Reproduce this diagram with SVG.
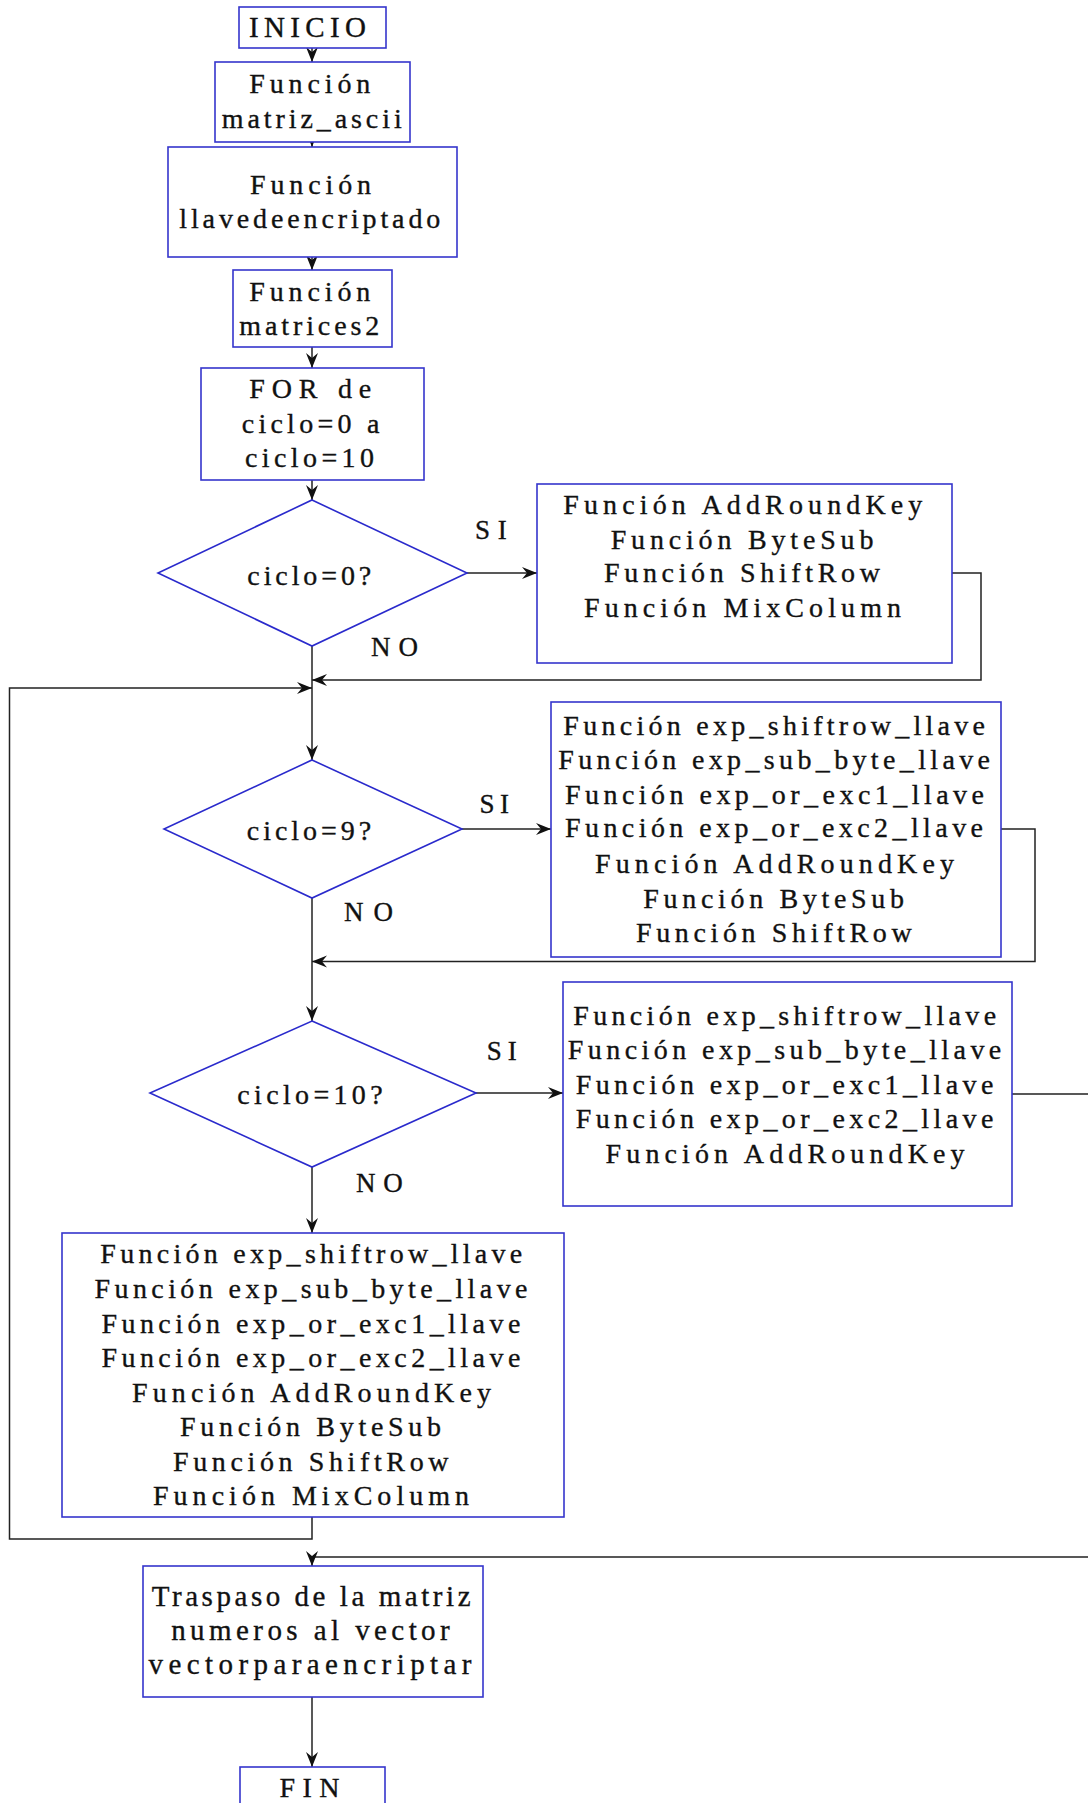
<svg xmlns="http://www.w3.org/2000/svg" width="1088" height="1803" viewBox="0 0 1088 1803">
<style>
.box{fill:#fff;stroke:#3535cc;stroke-width:1.6}
.dia{fill:#fff;stroke:#2a2acc;stroke-width:1.6}
.t{font-family:"Liberation Serif","Times New Roman",serif;font-size:28px;fill:#111;stroke:#111;stroke-width:0.35}
.s{font-size:27px}
.d{font-size:28px}
.big{font-size:29px}
.tr{font-size:29px}
.c{fill:none;stroke:#222;stroke-width:1.5}
</style>
<defs>
<marker id="ah" markerUnits="userSpaceOnUse" markerWidth="20" markerHeight="14" viewBox="-16 -7 17 14" refX="0" refY="0" orient="auto">
<path d="M0,0 L-15,-6 L-10,0 L-15,6 Z" fill="#111"/>
</marker>
</defs>
<g id="connectors">
<path class="c" d="M312,48 L312,62" marker-end="url(#ah)"/>
<path class="c" d="M312,132 L312,147" marker-end="url(#ah)"/>
<path class="c" d="M312,257 L312,270" marker-end="url(#ah)"/>
<path class="c" d="M312,347 L312,368" marker-end="url(#ah)"/>
<path class="c" d="M312,480 L312,500" marker-end="url(#ah)"/>
<path class="c" d="M467,573 L537,573" marker-end="url(#ah)"/>
<path class="c" d="M952,573 L981,573 L981,680 L312,680" marker-end="url(#ah)"/>
<path class="c" d="M312,646 L312,760" marker-end="url(#ah)"/>
<path class="c" d="M312,1517 L312,1539 L9.5,1539 L9.5,688 L312,688" marker-end="url(#ah)"/>
<path class="c" d="M462,829 L551,829" marker-end="url(#ah)"/>
<path class="c" d="M1001,829 L1035,829 L1035,961.5 L312,961.5" marker-end="url(#ah)"/>
<path class="c" d="M312,898 L312,1021" marker-end="url(#ah)"/>
<path class="c" d="M476,1093 L563,1093" marker-end="url(#ah)"/>
<path class="c" d="M1012,1094 L1096,1094 L1096,1557 L312,1557 L312,1566" marker-end="url(#ah)"/>
<path class="c" d="M312,1167 L312,1233" marker-end="url(#ah)"/>
<path class="c" d="M312,1697 L312,1767" marker-end="url(#ah)"/>
</g>
<g id="inicio">
<rect class="box" x="239" y="7" width="147" height="41"/>
<text class="t big" x="249" y="37" textLength="117" lengthAdjust="spacing">INICIO</text>
</g>
<g id="matriz_ascii">
<rect class="box" x="215" y="62" width="195" height="80"/>
<text class="t" x="249.3" y="93" textLength="121" lengthAdjust="spacing">Función</text>
<text class="t" x="221.7" y="128" textLength="180" lengthAdjust="spacing">matriz_ascii</text>
</g>
<g id="llavedeencriptado">
<rect class="box" x="168" y="147" width="289" height="110"/>
<text class="t" x="250" y="194" textLength="121" lengthAdjust="spacing">Función</text>
<text class="t" x="179.3" y="228" textLength="261" lengthAdjust="spacing">llavedeencriptado</text>
</g>
<g id="matrices2">
<rect class="box" x="233" y="270" width="159" height="77"/>
<text class="t" x="249.3" y="300.7" textLength="121" lengthAdjust="spacing">Función</text>
<text class="t" x="239.3" y="335" textLength="140" lengthAdjust="spacing">matrices2</text>
</g>
<g id="for">
<rect class="box" x="201" y="368" width="223" height="112"/>
<text class="t" x="249.3" y="398.3" textLength="122" lengthAdjust="spacing">FOR de</text>
<text class="t" x="241.7" y="433.3" textLength="137.7" lengthAdjust="spacing">ciclo=0 a</text>
<text class="t" x="245" y="466.7" textLength="129" lengthAdjust="spacing">ciclo=10</text>
</g>
<g id="dec0">
<polygon class="dia" points="312,500 467,573 312,646 158,573"/>
<text class="t d" x="247.3" y="585" textLength="124" lengthAdjust="spacing">ciclo=0?</text>
<text class="t s" x="475" y="539" textLength="31.7" lengthAdjust="spacing">SI</text>
<text class="t s" x="371" y="656" textLength="47" lengthAdjust="spacing">NO</text>
</g>
<g id="box1">
<rect class="box" x="537" y="484" width="415" height="179"/>
<text class="t" x="563.3" y="514.3" textLength="359" lengthAdjust="spacing">Función AddRoundKey</text>
<text class="t" x="610.7" y="549" textLength="262.7" lengthAdjust="spacing">Función ByteSub</text>
<text class="t" x="604" y="581.7" textLength="276" lengthAdjust="spacing">Función ShiftRow</text>
<text class="t" x="584" y="616.7" textLength="317" lengthAdjust="spacing">Función MixColumn</text>
</g>
<g id="dec9">
<polygon class="dia" points="312,760 462,829 312,898 164,829"/>
<text class="t d" x="246.8" y="840" textLength="124.4" lengthAdjust="spacing">ciclo=9?</text>
<text class="t s" x="479.5" y="812.7" textLength="29.5" lengthAdjust="spacing">SI</text>
<text class="t s" x="344" y="921" textLength="49" lengthAdjust="spacing">NO</text>
</g>
<g id="box2">
<rect class="box" x="551" y="702" width="450" height="255"/>
<text class="t" x="563.3" y="735" textLength="421.7" lengthAdjust="spacing">Función exp_shiftrow_llave</text>
<text class="t" x="558.3" y="769.3" textLength="431.7" lengthAdjust="spacing">Función exp_sub_byte_llave</text>
<text class="t" x="565" y="804" textLength="419" lengthAdjust="spacing">Función exp_or_exc1_llave</text>
<text class="t" x="565" y="837.3" textLength="418" lengthAdjust="spacing">Función exp_or_exc2_llave</text>
<text class="t" x="595" y="873.3" textLength="359" lengthAdjust="spacing">Función AddRoundKey</text>
<text class="t" x="643.3" y="907.7" textLength="260.7" lengthAdjust="spacing">Función ByteSub</text>
<text class="t" x="636" y="941.7" textLength="275.7" lengthAdjust="spacing">Función ShiftRow</text>
</g>
<g id="dec10">
<polygon class="dia" points="312,1021 476,1093 312,1167 150,1093"/>
<text class="t d" x="237.3" y="1104" textLength="145.3" lengthAdjust="spacing">ciclo=10?</text>
<text class="t s" x="486.7" y="1060" textLength="30" lengthAdjust="spacing">SI</text>
<text class="t s" x="356" y="1192" textLength="46.7" lengthAdjust="spacing">NO</text>
</g>
<g id="box3">
<rect class="box" x="563" y="982" width="449" height="224"/>
<text class="t" x="573.3" y="1025" textLength="422.8" lengthAdjust="spacing">Función exp_shiftrow_llave</text>
<text class="t" x="567.8" y="1059.3" textLength="433.5" lengthAdjust="spacing">Función exp_sub_byte_llave</text>
<text class="t" x="575.7" y="1094.3" textLength="417.7" lengthAdjust="spacing">Función exp_or_exc1_llave</text>
<text class="t" x="575.7" y="1128.3" textLength="417.7" lengthAdjust="spacing">Función exp_or_exc2_llave</text>
<text class="t" x="605.6" y="1162.7" textLength="359" lengthAdjust="spacing">Función AddRoundKey</text>
</g>
<g id="box4">
<rect class="box" x="62" y="1233" width="502" height="284"/>
<text class="t" x="100.3" y="1263.3" textLength="422" lengthAdjust="spacing">Función exp_shiftrow_llave</text>
<text class="t" x="94.5" y="1298.3" textLength="433" lengthAdjust="spacing">Función exp_sub_byte_llave</text>
<text class="t" x="101.4" y="1332.7" textLength="419" lengthAdjust="spacing">Función exp_or_exc1_llave</text>
<text class="t" x="101.4" y="1366.7" textLength="419" lengthAdjust="spacing">Función exp_or_exc2_llave</text>
<text class="t" x="132" y="1401.7" textLength="359" lengthAdjust="spacing">Función AddRoundKey</text>
<text class="t" x="180" y="1436" textLength="261" lengthAdjust="spacing">Función ByteSub</text>
<text class="t" x="173" y="1470.7" textLength="275.5" lengthAdjust="spacing">Función ShiftRow</text>
<text class="t" x="153" y="1505" textLength="316" lengthAdjust="spacing">Función MixColumn</text>
</g>
<g id="traspaso">
<rect class="box" x="143" y="1566" width="340" height="131"/>
<text class="t tr" x="151.7" y="1606" textLength="318.8" lengthAdjust="spacing">Traspaso de la matriz</text>
<text class="t tr" x="171.2" y="1640" textLength="278.5" lengthAdjust="spacing">numeros al vector</text>
<text class="t tr" x="148.5" y="1674" textLength="323" lengthAdjust="spacing">vectorparaencriptar</text>
</g>
<g id="fin">
<rect class="box" x="240" y="1767" width="145" height="50"/>
<text class="t" x="279.6" y="1797" textLength="60" lengthAdjust="spacing">FIN</text>
</g>
</svg>
